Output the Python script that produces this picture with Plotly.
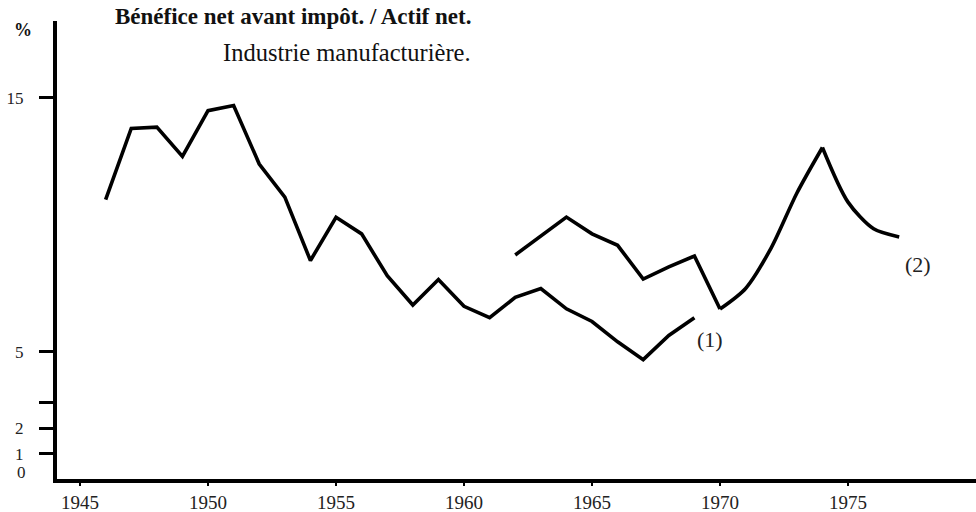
import plotly.graph_objects as go

# Series (1): 1946-1969
years_1 = list(range(1946, 1970))
values_1 = [11.0, 13.8, 13.85, 12.7, 14.5, 14.7, 12.4, 11.1, 8.6, 10.3,
            9.65, 8.0, 6.85, 7.85, 6.8, 6.35, 7.15, 7.5, 6.7, 6.2,
            5.4, 4.7, 5.65, 6.35]

# Series (2): 1962-1977 (straight segments to 1970, smooth afterwards, peak in 1974)
years_2a = list(range(1962, 1971))
values_2a = [8.82, 9.57, 10.31, 9.65, 9.2, 7.87, 8.35, 8.78, 6.69]
years_2b = list(range(1970, 1978))
values_2b = [6.69, 7.5, 9.1, 11.25, 13.05, 10.9, 9.85, 9.53]

x_tick_vals = [1945, 1950, 1955, 1960, 1965, 1970, 1975]
y_tick_vals = [1, 2, 3, 5, 15]
y_tick_text = ["1", "2", "", "5", "15"]

FONT = "Liberation Serif"
LINE = dict(color="black", width=3.6)
CURVE = dict(color="black", width=3.6, shape="spline", smoothing=0.8)

peak = values_2b.index(max(values_2b))

fig = go.Figure()
fig.add_trace(go.Scatter(x=years_1, y=values_1, mode="lines", line=LINE,
                         showlegend=False, hoverinfo="skip"))
fig.add_trace(go.Scatter(x=years_2a, y=values_2a, mode="lines", line=LINE,
                         showlegend=False, hoverinfo="skip"))
fig.add_trace(go.Scatter(x=years_2b[:peak + 1], y=values_2b[:peak + 1], mode="lines",
                         line=CURVE, showlegend=False, hoverinfo="skip"))
fig.add_trace(go.Scatter(x=years_2b[peak:], y=values_2b[peak:], mode="lines",
                         line=CURVE, showlegend=False, hoverinfo="skip"))

fig.update_layout(
    width=976, height=512,
    margin=dict(l=57, r=0, t=21, b=33, autoexpand=False),
    paper_bgcolor="white", plot_bgcolor="white",
    font=dict(family=FONT, color="#222"),
    xaxis=dict(range=[1944.1, 1980.0], showgrid=False, zeroline=False,
               showline=True, linecolor="black", linewidth=4,
               ticks="outside", ticklen=3, tickwidth=2, tickcolor="black",
               tickvals=x_tick_vals, tickfont=dict(size=19, family=FONT, color="#222")),
    yaxis=dict(range=[0, 18.03], showgrid=False, zeroline=False,
               showline=True, linecolor="black", linewidth=4,
               ticks="outside", ticklen=14, tickwidth=2.5, tickcolor="black",
               tickvals=y_tick_vals, ticktext=y_tick_text,
               ticklabelstandoff=12,
               tickfont=dict(size=17, family=FONT, color="#222")),
    annotations=[
        dict(text="<b>Bénéfice net avant impôt. / Actif net.</b>", xref="paper", yref="paper",
             x=0.4527, y=1.010, xanchor="right", yanchor="middle", showarrow=False,
             font=dict(size=23, family=FONT, color="#111")),
        dict(text="Industrie manufacturière.", xref="paper", yref="paper",
             x=0.4527, y=0.932, xanchor="right", yanchor="middle", showarrow=False,
             font=dict(size=24.5, family=FONT, color="#111")),
        dict(text="<b>%</b>", xref="paper", yref="paper",
             x=-0.037, y=0.980, xanchor="center", yanchor="middle", showarrow=False,
             font=dict(size=18, family=FONT, color="#111")),
        dict(text="0", xref="paper", yref="y", x=-0.032, y=0, yshift=7,
             xanchor="right", yanchor="middle", showarrow=False,
             font=dict(size=17, family=FONT, color="#222")),
        dict(text="(1)", x=1969.6, y=5.51, xref="x", yref="y", showarrow=False,
             xanchor="center", yanchor="middle",
             font=dict(size=22, family=FONT, color="#222")),
        dict(text="(2)", x=1977.73, y=8.46, xref="x", yref="y", showarrow=False,
             xanchor="center", yanchor="middle",
             font=dict(size=22, family=FONT, color="#222")),
    ],
)

# Remove the page's default 8px body margin so the figure fills the window exactly.
fig.write_html("out.html",
               config={"displayModeBar": False},
               post_script="document.body.style.margin='0';document.body.style.overflow='hidden';")
